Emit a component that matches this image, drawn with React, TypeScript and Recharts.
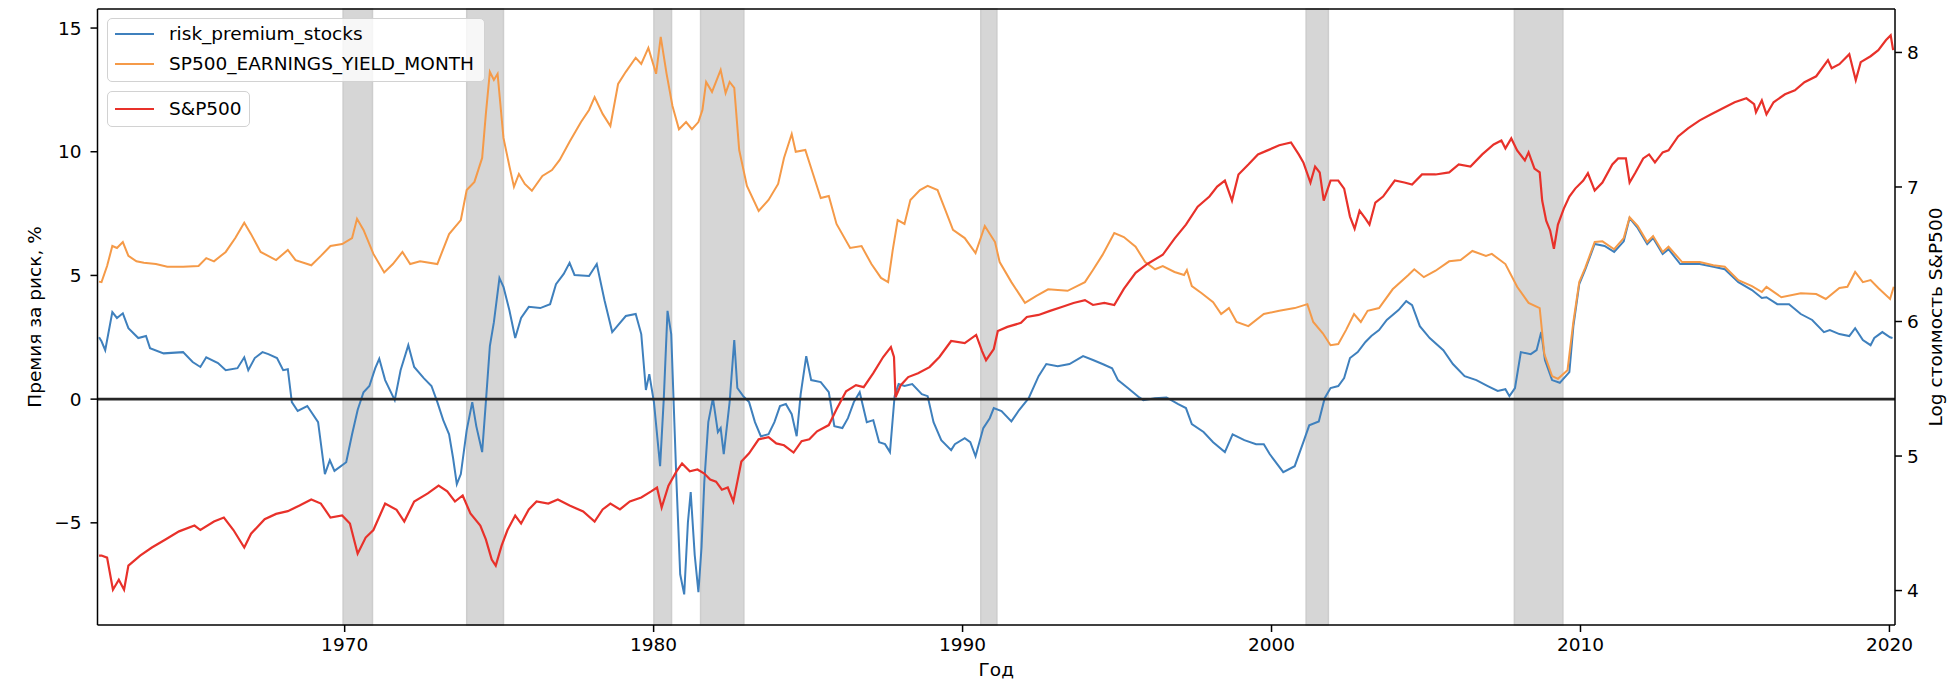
import { LineChart, Line, XAxis, YAxis, ReferenceArea, ReferenceLine, Legend } from "recharts"

const yearTicks = [1970, 1980, 1990, 2000, 2010, 2020]
const premiumTicks = [-5, 0, 5, 10, 15]
const logTicks = [4, 5, 6, 7, 8]

// NBER recessions, decimal years
const recessions: [number, number][] = [
  [1969.95, 1970.9], [1973.95, 1975.14], [1980.01, 1980.58], [1981.52, 1982.92],
  [1990.59, 1991.11], [2001.12, 2001.84], [2007.86, 2009.43],
]

const riskPremium: [number, number][] = [
  [1962.05, 2.5], [1962.13, 2.34], [1962.25, 1.98], [1962.48, 3.52], [1962.63, 3.28], [1962.82, 3.47],
  [1963.0, 2.87], [1963.32, 2.47], [1963.57, 2.55], [1963.7, 2.06], [1964.14, 1.85], [1964.77, 1.9],
  [1965.08, 1.5], [1965.33, 1.3], [1965.52, 1.69], [1965.9, 1.46], [1966.15, 1.17], [1966.53, 1.25],
  [1966.75, 1.69], [1966.88, 1.17], [1967.09, 1.66], [1967.34, 1.9], [1967.53, 1.82], [1967.81, 1.66],
  [1968.01, 1.17], [1968.16, 1.21], [1968.29, -0.12], [1968.48, -0.48], [1968.79, -0.28], [1969.14, -0.93],
  [1969.36, -3.03], [1969.52, -2.47], [1969.67, -2.9], [1970.05, -2.55], [1970.24, -1.42], [1970.42, -0.44],
  [1970.61, 0.28], [1970.8, 0.53], [1970.99, 1.25], [1971.12, 1.63], [1971.31, 0.77], [1971.62, -0.04],
  [1971.81, 1.17], [1972.06, 2.18], [1972.25, 1.3], [1972.56, 0.85], [1972.81, 0.53], [1973.0, -0.12],
  [1973.19, -0.85], [1973.38, -1.42], [1973.51, -2.39], [1973.63, -3.44], [1973.76, -3.03], [1973.95, -1.25],
  [1974.13, -0.12], [1974.26, -1.09], [1974.45, -2.14], [1974.57, -0.12], [1974.7, 2.14], [1974.83, 3.11],
  [1975.01, 4.89], [1975.14, 4.54], [1975.33, 3.6], [1975.52, 2.47], [1975.71, 3.28], [1975.96, 3.73],
  [1976.33, 3.68], [1976.65, 3.84], [1976.84, 4.65], [1977.09, 5.06], [1977.28, 5.51], [1977.44, 5.02],
  [1977.91, 4.98], [1978.16, 5.46], [1978.41, 4.0], [1978.66, 2.71], [1978.85, 2.99], [1979.1, 3.36],
  [1979.42, 3.44], [1979.6, 2.63], [1979.75, 0.37], [1979.86, 1.01], [1980.01, -0.12], [1980.21, -2.71],
  [1980.33, 0.04], [1980.45, 3.57], [1980.57, 2.63], [1980.74, -3.36], [1980.86, -7.08], [1980.99, -7.89],
  [1981.11, -4.98], [1981.2, -3.76], [1981.33, -6.3], [1981.45, -7.8], [1981.55, -6.0], [1981.64, -3.36],
  [1981.77, -0.93], [1981.92, 0.04], [1982.08, -1.33], [1982.17, -1.17], [1982.27, -2.22], [1982.46, -0.12],
  [1982.61, 2.39], [1982.71, 0.45], [1982.9, 0.12], [1983.09, -0.12], [1983.28, -0.93], [1983.47, -1.5],
  [1983.72, -1.42], [1983.91, -0.93], [1984.09, -0.28], [1984.28, -0.2], [1984.47, -0.61], [1984.63, -1.5],
  [1984.76, 0.2], [1984.94, 1.74], [1985.1, 0.77], [1985.41, 0.69], [1985.67, 0.28], [1985.85, -1.09],
  [1986.11, -1.17], [1986.29, -0.77], [1986.48, -0.12], [1986.67, 0.28], [1986.9, -0.93], [1987.11, -0.85],
  [1987.3, -1.74], [1987.49, -1.82], [1987.65, -2.14], [1987.8, 0.12], [1987.93, 0.61], [1988.12, 0.53],
  [1988.37, 0.61], [1988.68, 0.2], [1988.87, 0.12], [1989.06, -0.93], [1989.31, -1.66], [1989.63, -2.06],
  [1989.75, -1.82], [1990.07, -1.58], [1990.25, -1.74], [1990.42, -2.31], [1990.67, -1.17], [1990.88, -0.77],
  [1991.01, -0.36], [1991.26, -0.48], [1991.58, -0.9], [1991.83, -0.44], [1992.14, 0.04], [1992.46, 0.93],
  [1992.71, 1.42], [1993.08, 1.33], [1993.46, 1.42], [1993.9, 1.74], [1994.22, 1.58], [1994.53, 1.42],
  [1994.84, 1.25], [1995.03, 0.77], [1995.35, 0.45], [1995.72, 0.07], [1995.85, -0.04], [1996.23, 0.04],
  [1996.6, 0.07], [1996.98, -0.2], [1997.23, -0.36], [1997.42, -1.01], [1997.8, -1.33], [1998.11, -1.74],
  [1998.49, -2.14], [1998.74, -1.42], [1999.12, -1.66], [1999.5, -1.82], [1999.75, -1.82], [1999.94, -2.22],
  [2000.38, -2.95], [2000.75, -2.71], [2001.03, -1.74], [2001.22, -1.06], [2001.53, -0.9], [2001.72, 0.04],
  [2001.91, 0.45], [2002.16, 0.53], [2002.35, 0.85], [2002.54, 1.66], [2002.79, 1.9], [2003.04, 2.31],
  [2003.23, 2.55], [2003.48, 2.79], [2003.73, 3.2], [2004.11, 3.6], [2004.36, 3.96], [2004.55, 3.8],
  [2004.8, 2.95], [2005.12, 2.47], [2005.56, 1.98], [2005.87, 1.42], [2006.25, 0.93], [2006.63, 0.77],
  [2007.0, 0.53], [2007.32, 0.33], [2007.57, 0.4], [2007.7, 0.12], [2007.88, 0.45], [2008.07, 1.9],
  [2008.39, 1.82], [2008.58, 1.98], [2008.73, 2.71], [2008.85, 1.58], [2009.08, 0.77], [2009.33, 0.66],
  [2009.64, 1.09], [2009.77, 2.95], [2009.96, 4.65], [2010.15, 5.22], [2010.46, 6.27], [2010.78, 6.19],
  [2011.09, 5.95], [2011.4, 6.38], [2011.59, 7.32], [2011.85, 6.92], [2012.16, 6.27], [2012.35, 6.51],
  [2012.66, 5.87], [2012.85, 6.06], [2013.23, 5.46], [2013.86, 5.46], [2014.3, 5.35], [2014.67, 5.25],
  [2015.11, 4.73], [2015.55, 4.41], [2015.87, 4.09], [2016.02, 4.12], [2016.37, 3.84], [2016.75, 3.84],
  [2017.13, 3.44], [2017.5, 3.2], [2017.88, 2.71], [2018.07, 2.79], [2018.38, 2.63], [2018.7, 2.55],
  [2018.89, 2.87], [2019.14, 2.39], [2019.39, 2.18], [2019.51, 2.47], [2019.77, 2.71], [2020.02, 2.5],
  [2020.1, 2.47],
]

const earningsYield: [number, number][] = [
  [1962.05, 4.75], [1962.13, 4.73], [1962.31, 5.38], [1962.48, 6.19], [1962.63, 6.11], [1962.82, 6.35],
  [1963.0, 5.79], [1963.26, 5.57], [1963.5, 5.51], [1963.89, 5.46], [1964.26, 5.35], [1964.77, 5.35],
  [1965.27, 5.38], [1965.52, 5.7], [1965.77, 5.57], [1966.15, 5.95], [1966.46, 6.51], [1966.75, 7.13],
  [1966.97, 6.67], [1967.28, 5.95], [1967.78, 5.62], [1968.16, 6.03], [1968.41, 5.62], [1968.92, 5.41],
  [1969.23, 5.79], [1969.54, 6.19], [1969.92, 6.27], [1970.24, 6.51], [1970.4, 7.29], [1970.61, 6.84],
  [1970.93, 5.87], [1971.28, 5.12], [1971.56, 5.46], [1971.87, 5.95], [1972.12, 5.46], [1972.44, 5.57],
  [1973.0, 5.46], [1973.38, 6.67], [1973.76, 7.24], [1973.95, 8.45], [1974.2, 8.78], [1974.45, 9.75],
  [1974.57, 11.53], [1974.7, 13.23], [1974.83, 12.9], [1974.95, 13.15], [1975.14, 10.56], [1975.33, 9.43],
  [1975.48, 8.58], [1975.64, 9.1], [1975.83, 8.7], [1976.06, 8.42], [1976.4, 9.02], [1976.71, 9.26],
  [1976.96, 9.67], [1977.28, 10.4], [1977.65, 11.2], [1977.91, 11.69], [1978.09, 12.21], [1978.35, 11.53],
  [1978.6, 11.04], [1978.85, 12.74], [1979.1, 13.23], [1979.42, 13.8], [1979.6, 13.55], [1979.83, 14.2],
  [1980.08, 13.15], [1980.23, 14.64], [1980.42, 13.15], [1980.61, 11.85], [1980.82, 10.91], [1981.05, 11.2],
  [1981.24, 10.91], [1981.45, 11.2], [1981.58, 11.69], [1981.7, 12.82], [1981.89, 12.42], [1982.17, 13.31],
  [1982.33, 12.37], [1982.46, 12.82], [1982.61, 12.58], [1982.77, 10.07], [1983.02, 8.62], [1983.4, 7.61],
  [1983.72, 8.05], [1984.03, 8.7], [1984.22, 9.75], [1984.47, 10.72], [1984.6, 10.0], [1984.91, 10.07],
  [1985.16, 9.1], [1985.41, 8.13], [1985.67, 8.21], [1985.92, 7.08], [1986.36, 6.11], [1986.73, 6.19],
  [1987.05, 5.46], [1987.36, 4.9], [1987.59, 4.73], [1987.74, 6.03], [1987.9, 7.24], [1988.12, 7.08],
  [1988.31, 8.05], [1988.62, 8.45], [1988.87, 8.62], [1989.19, 8.45], [1989.44, 7.65], [1989.69, 6.84],
  [1990.07, 6.51], [1990.42, 5.9], [1990.72, 7.0], [1991.05, 6.35], [1991.2, 5.54], [1991.58, 4.73],
  [1992.02, 3.89], [1992.39, 4.17], [1992.77, 4.44], [1993.4, 4.38], [1993.96, 4.73], [1994.22, 5.22],
  [1994.53, 5.83], [1994.91, 6.71], [1995.22, 6.55], [1995.6, 6.16], [1995.91, 5.54], [1996.23, 5.25],
  [1996.48, 5.38], [1996.86, 5.14], [1997.17, 5.02], [1997.26, 5.22], [1997.42, 4.57], [1997.74, 4.28],
  [1998.11, 3.92], [1998.37, 3.44], [1998.62, 3.68], [1998.87, 3.12], [1999.25, 2.95], [1999.75, 3.44],
  [2000.25, 3.57], [2000.75, 3.68], [2001.16, 3.84], [2001.35, 3.12], [2001.66, 2.66], [2001.91, 2.18],
  [2002.16, 2.23], [2002.41, 2.79], [2002.67, 3.44], [2002.89, 3.12], [2003.11, 3.57], [2003.48, 3.68],
  [2003.92, 4.44], [2004.43, 5.02], [2004.62, 5.25], [2004.93, 4.93], [2005.31, 5.19], [2005.75, 5.57],
  [2006.12, 5.62], [2006.5, 5.99], [2006.94, 5.79], [2007.13, 5.87], [2007.57, 5.46], [2007.95, 4.54],
  [2008.32, 3.89], [2008.68, 3.68], [2008.83, 1.82], [2009.08, 0.93], [2009.27, 0.82], [2009.58, 1.17],
  [2009.77, 3.12], [2009.96, 4.73], [2010.15, 5.3], [2010.46, 6.35], [2010.71, 6.38], [2011.09, 6.06],
  [2011.4, 6.51], [2011.59, 7.35], [2011.85, 7.0], [2012.16, 6.35], [2012.35, 6.59], [2012.66, 5.95],
  [2012.85, 6.16], [2013.29, 5.54], [2013.86, 5.54], [2014.3, 5.41], [2014.67, 5.35], [2015.11, 4.81],
  [2015.55, 4.57], [2015.87, 4.33], [2016.02, 4.54], [2016.5, 4.12], [2017.13, 4.28], [2017.63, 4.25],
  [2017.94, 4.05], [2018.38, 4.49], [2018.64, 4.54], [2018.89, 5.14], [2019.14, 4.73], [2019.39, 4.81],
  [2019.64, 4.49], [2020.02, 4.05], [2020.14, 4.54],
]

const sp500Log: [number, number][] = [
  [1962.05, 4.26], [1962.13, 4.26], [1962.31, 4.245], [1962.5, 4.006], [1962.69, 4.08], [1962.86, 4.006],
  [1963.0, 4.185], [1963.38, 4.26], [1963.76, 4.32], [1964.2, 4.38], [1964.64, 4.44], [1965.14, 4.483],
  [1965.33, 4.45], [1965.77, 4.513], [1966.09, 4.543], [1966.4, 4.45], [1966.75, 4.32], [1966.97, 4.423],
  [1967.41, 4.53], [1967.78, 4.57], [1968.16, 4.59], [1968.54, 4.632], [1968.92, 4.677], [1969.23, 4.647],
  [1969.54, 4.543], [1969.92, 4.558], [1970.17, 4.498], [1970.42, 4.274], [1970.68, 4.394], [1970.93, 4.45],
  [1971.31, 4.647], [1971.68, 4.6], [1971.93, 4.513], [1972.25, 4.662], [1972.69, 4.722], [1973.04, 4.78],
  [1973.32, 4.737], [1973.57, 4.662], [1973.82, 4.707], [1974.07, 4.573], [1974.39, 4.483], [1974.57, 4.38],
  [1974.76, 4.23], [1974.89, 4.185], [1975.08, 4.334], [1975.27, 4.45], [1975.52, 4.558], [1975.71, 4.498],
  [1975.96, 4.603], [1976.21, 4.662], [1976.59, 4.647], [1976.9, 4.677], [1977.28, 4.632], [1977.72, 4.588],
  [1978.09, 4.513], [1978.35, 4.603], [1978.6, 4.647], [1978.91, 4.603], [1979.23, 4.662], [1979.6, 4.692],
  [1979.92, 4.737], [1980.11, 4.766], [1980.26, 4.617], [1980.48, 4.78], [1980.74, 4.886], [1980.92, 4.945],
  [1981.17, 4.886], [1981.42, 4.9], [1981.64, 4.87], [1981.83, 4.826], [1982.02, 4.81], [1982.21, 4.75],
  [1982.4, 4.766], [1982.58, 4.662], [1982.71, 4.81], [1982.84, 4.96], [1983.09, 5.02], [1983.4, 5.124],
  [1983.72, 5.14], [1983.97, 5.094], [1984.22, 5.08], [1984.53, 5.026], [1984.79, 5.11], [1985.04, 5.124],
  [1985.29, 5.184], [1985.67, 5.23], [1985.92, 5.348], [1986.23, 5.482], [1986.55, 5.527], [1986.8, 5.512],
  [1987.11, 5.616], [1987.43, 5.736], [1987.68, 5.81], [1987.78, 5.736], [1987.83, 5.437], [1988.0, 5.527],
  [1988.24, 5.587], [1988.56, 5.616], [1988.93, 5.661], [1989.25, 5.736], [1989.63, 5.855], [1990.07, 5.84],
  [1990.44, 5.9], [1990.63, 5.78], [1990.76, 5.712], [1991.01, 5.795], [1991.14, 5.93], [1991.45, 5.96],
  [1991.89, 5.99], [1992.08, 6.034], [1992.46, 6.049], [1992.83, 6.079], [1993.21, 6.108], [1993.59, 6.138],
  [1993.96, 6.159], [1994.22, 6.123], [1994.59, 6.138], [1994.91, 6.123], [1995.22, 6.243], [1995.6, 6.362],
  [1995.98, 6.428], [1996.48, 6.496], [1996.86, 6.616], [1997.23, 6.72], [1997.61, 6.854], [1997.99, 6.929],
  [1998.24, 7.003], [1998.49, 7.048], [1998.72, 6.899], [1998.93, 7.093], [1999.25, 7.167], [1999.56, 7.242],
  [1999.87, 7.272], [2000.25, 7.31], [2000.63, 7.331], [2000.88, 7.242], [2001.03, 7.182], [2001.26, 7.033],
  [2001.41, 7.152], [2001.56, 7.108], [2001.69, 6.899], [2001.91, 7.048], [2002.16, 7.048], [2002.35, 6.988],
  [2002.54, 6.78], [2002.69, 6.69], [2002.85, 6.824], [2003.04, 6.765], [2003.17, 6.72], [2003.36, 6.884],
  [2003.61, 6.929], [2003.99, 7.048], [2004.3, 7.033], [2004.55, 7.018], [2004.87, 7.093], [2005.31, 7.093],
  [2005.75, 7.108], [2006.06, 7.167], [2006.44, 7.152], [2006.82, 7.242], [2007.19, 7.316], [2007.44, 7.346],
  [2007.57, 7.287], [2007.76, 7.361], [2007.95, 7.272], [2008.2, 7.197], [2008.32, 7.257], [2008.51, 7.137],
  [2008.68, 7.108], [2008.76, 6.899], [2008.89, 6.75], [2009.02, 6.675], [2009.14, 6.541], [2009.27, 6.72],
  [2009.46, 6.839], [2009.64, 6.929], [2009.83, 6.988], [2010.09, 7.048], [2010.24, 7.102], [2010.46, 6.973],
  [2010.71, 7.033], [2011.03, 7.167], [2011.22, 7.212], [2011.47, 7.212], [2011.59, 7.033], [2011.78, 7.108],
  [2012.03, 7.212], [2012.22, 7.242], [2012.41, 7.182], [2012.66, 7.257], [2012.85, 7.272], [2013.16, 7.376],
  [2013.48, 7.436], [2013.86, 7.495], [2014.23, 7.54], [2014.61, 7.585], [2014.99, 7.63], [2015.37, 7.659],
  [2015.62, 7.615], [2015.68, 7.555], [2015.87, 7.644], [2016.02, 7.54], [2016.25, 7.63], [2016.62, 7.689],
  [2016.94, 7.719], [2017.25, 7.779], [2017.63, 7.823], [2018.01, 7.943], [2018.13, 7.883], [2018.38, 7.913],
  [2018.7, 7.987], [2018.91, 7.794], [2019.07, 7.928], [2019.39, 7.972], [2019.64, 8.017], [2019.89, 8.092],
  [2020.04, 8.127], [2020.12, 8.017],
]

const BLUE = "#3f80bd"
const ORANGE = "#f59a48"
const RED = "#e8312a"
const FONT = "DejaVu Sans"
const LEFT_MAX = 15.77

const toPoints = (rows: [number, number][]) => rows.map(([x, y]) => ({ x, y }))
const minus = (v: number) => String(v).replace("-", "\u2212")

const tickStyle = { fill: "#000", fontSize: 18.5, fontFamily: FONT }
const axisStroke = { stroke: "#000", strokeWidth: 1.5 }

function LegendBoxes() {
  const box = {
    position: "absolute" as const,
    left: 0,
    background: "rgba(255,255,255,0.8)",
    border: "1.5px solid #d2d2d2",
    borderRadius: 5,
    boxSizing: "border-box" as const,
  }
  const row = (color: string, label: string, cy: number) => (
    <div key={label}>
      <div style={{ position: "absolute", left: 7, top: cy - 1, width: 39, height: 2, background: color }} />
      <span style={{ position: "absolute", left: 61, top: cy - 12, lineHeight: "24px", whiteSpace: "nowrap" }}>{label}</span>
    </div>
  )
  return (
    <div style={{ position: "relative", width: 380, height: 110, fontFamily: FONT, fontSize: 18.5, color: "#000" }}>
      <div style={{ ...box, top: 0, width: 378, height: 64 }}>
        {row(BLUE, "risk_premium_stocks", 15)}
        {row(ORANGE, "SP500_EARNINGS_YIELD_MONTH", 45)}
      </div>
      <div style={{ ...box, top: 73, width: 143, height: 36 }}>
        {row(RED, "S&P500", 17)}
      </div>
    </div>
  )
}

export default function App() {
  return (
    <div style={{ position: "absolute", left: 0, top: 0, width: 1960, height: 690, background: "#fff" }}>
      <LineChart width={1960} height={690} margin={{ top: 9, right: 0, bottom: 0, left: 0 }}>
        <XAxis
          xAxisId="bottom"
          type="number"
          dataKey="x"
          domain={[1962.0, 2020.18]}
          ticks={yearTicks}
          allowDataOverflow
          height={65}
          tick={tickStyle}
          tickLine={axisStroke}
          axisLine={axisStroke}
          tickSize={7}
          tickMargin={6}
          label={{ value: "Год", position: "insideBottom", offset: 14, style: { fill: "#000", fontSize: 18.5, fontFamily: FONT } }}
        />
        <YAxis
          yAxisId="left"
          type="number"
          domain={[-9.13, LEFT_MAX]}
          ticks={premiumTicks}
          allowDataOverflow
          width={97.5}
          tick={tickStyle}
          tickFormatter={minus}
          tickLine={axisStroke}
          axisLine={axisStroke}
          tickSize={7}
          tickMargin={9}
          label={{ value: "Премия за риск, %", angle: -90, position: "insideLeft", offset: 34, style: { textAnchor: "middle", fill: "#000", fontSize: 18.5, fontFamily: FONT } }}
        />
        <YAxis
          yAxisId="right"
          orientation="right"
          type="number"
          domain={[3.744, 8.323]}
          ticks={logTicks}
          allowDataOverflow
          width={65}
          tick={tickStyle}
          tickLine={axisStroke}
          axisLine={axisStroke}
          tickSize={7}
          tickMargin={5}
          label={{ value: "Log стоимость S&P500", angle: -90, position: "insideLeft", offset: 40, style: { textAnchor: "middle", fill: "#000", fontSize: 18.5, fontFamily: FONT } }}
        />
        {recessions.map(([a, b]) => (
          <ReferenceArea
            key={a}
            xAxisId="bottom"
            yAxisId="left"
            x1={a}
            x2={b}
            fill="#d6d6d6"
            fillOpacity={1}
            stroke="#cdcdcd"
            strokeWidth={1.5}
          />
        ))}
        <Line xAxisId="bottom" yAxisId="left" data={toPoints(riskPremium)} dataKey="y" stroke={BLUE} strokeWidth={2} dot={false} isAnimationActive={false} />
        <Line xAxisId="bottom" yAxisId="left" data={toPoints(earningsYield)} dataKey="y" stroke={ORANGE} strokeWidth={2} dot={false} isAnimationActive={false} />
        <ReferenceLine xAxisId="bottom" yAxisId="left" y={0} stroke="#262626" strokeWidth={2.8} />
        <Line xAxisId="bottom" yAxisId="right" data={toPoints(sp500Log)} dataKey="y" stroke={RED} strokeWidth={2.2} dot={false} isAnimationActive={false} />
        {/* top spine of the axes box */}
        <ReferenceLine xAxisId="bottom" yAxisId="left" y={LEFT_MAX} stroke="#000" strokeWidth={1.5} />
        <Legend layout="vertical" align="center" verticalAlign="middle" content={() => <LegendBoxes />} wrapperStyle={{ left: 107, top: 18, width: 380 }} />
      </LineChart>
    </div>
  )
}
